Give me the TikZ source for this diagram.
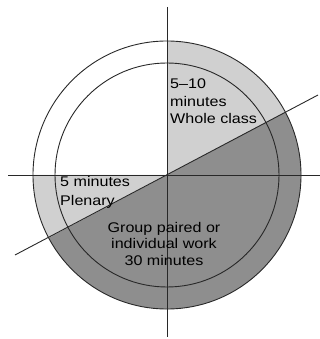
\documentclass[tikz,border=0pt]{standalone}
\usepackage{fontspec}
\setmainfont{Liberation Sans}
\newfontfamily\widesans[FakeStretch=1.15]{Liberation Sans}
\definecolor{lightsec}{RGB}{208,208,208}
\definecolor{darksec}{RGB}{142,142,142}
\definecolor{inkline}{RGB}{40,40,40}
\tikzset{
  axis line/.style={draw=inkline, line width=0.9pt},
  ring/.style={draw=inkline, line width=0.9pt},
  label text/.style={inner sep=0pt, font=\widesans\fontsize{14}{17.5}\selectfont, text=black}
}
\begin{document}
\begin{tikzpicture}[x=1pt,y=1pt]
\useasboundingbox (0,0) rectangle (320,339);
\coordinate (c) at (167,164);
% sectors
\fill[lightsec] (c) -- ++(28:134) arc[start angle=28, end angle=90, radius=134] -- cycle;
\fill[lightsec] (c) -- ++(180:134) arc[start angle=180, end angle=208, radius=134] -- cycle;
\fill[darksec] (c) -- ++(208:134) arc[start angle=208, end angle=388, radius=134] -- cycle;
% circles
\draw[ring] (c) circle[radius=134];
\draw[ring] (c) circle[radius=112];
% axes
\coordinate (vtop) at (167,332);
\coordinate (vbot) at (167,2);
\coordinate (hleft) at (8,164);
\coordinate (hright) at (320,164);
\coordinate (dleft) at (15,84);
\coordinate (dright) at (318,244);
\draw[axis line] (vtop) -- (vbot);
\draw[axis line] (hleft) -- (hright);
\draw[axis line] (dleft) -- (dright);
% labels
\node[label text, anchor=north west, align=left] (whole) at (170,260) {5–10\\minutes\\Whole class};
\node[label text, anchor=north west, align=left, font=\widesans\fontsize{14}{19}\selectfont] (plenary) at (60,163) {5 minutes\\Plenary};
\node[label text, anchor=north, align=center, font=\widesans\fontsize{14}{16.5}\selectfont] (group) at (164,117) {Group paired or\\individual work\\30 minutes};
\end{tikzpicture}
\end{document}
